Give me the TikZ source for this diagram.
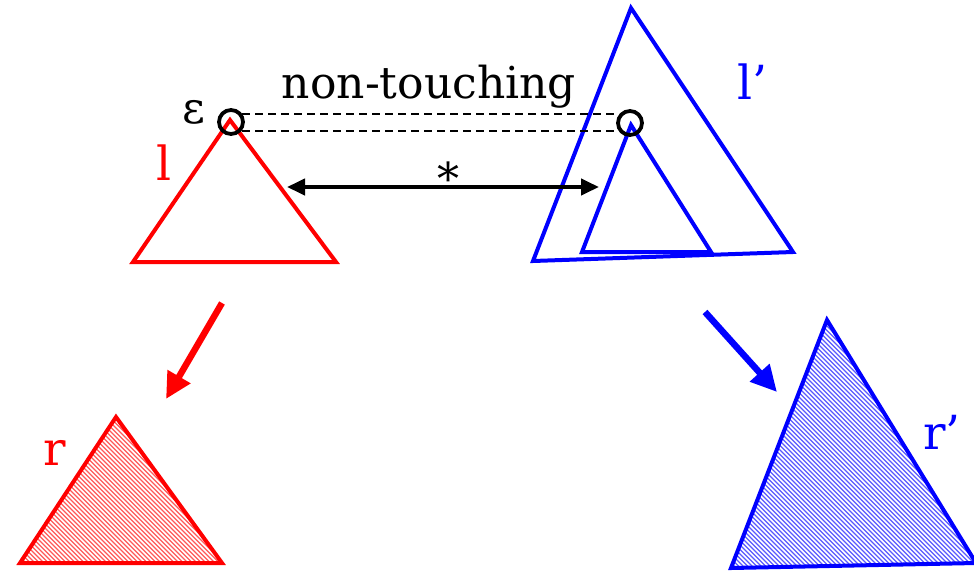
\documentclass[tikz,border=0pt]{standalone}
\usepackage{fontspec}
\setmainfont{DejaVu Serif}
\usetikzlibrary{arrows.meta}
\definecolor{pr}{RGB}{255,0,0}
\definecolor{pb}{RGB}{0,0,255}
\tikzset{
  tri/.style={line width=4pt, line join=miter},
  big/.style={font=\fontsize{44}{54}\selectfont, inner sep=0pt},
  lab/.style={font=\fontsize{47}{56}\selectfont, inner sep=0pt, anchor=base west},
  ring/.style={circle, draw=black, line width=3.8pt, minimum size=24pt, inner sep=0pt},
  dashline/.style={black, line width=1.8pt, dash pattern=on 8pt off 5pt},
  fatarrow/.style={line width=6.5pt, -{Triangle[length=26pt,width=25pt]}},
  hatch/.style={line width=1.3pt},
}
\begin{document}
\begin{tikzpicture}[x=1pt,y=-1pt]
\useasboundingbox (0,0) rectangle (974,571);
% red triangle l
\coordinate (lA) at (230,120);
\coordinate (lB) at (133,262);
\coordinate (lC) at (336,262);
\draw[tri, pr] (lA) -- (lB) -- (lC) -- cycle;
% blue triangles l'
\coordinate (bA) at (631,8);
\coordinate (bB) at (533,261);
\coordinate (bC) at (793,252);
\draw[tri, pb] (bA) -- (bB) -- (bC) -- cycle;
\coordinate (iA) at (631,125);
\coordinate (iB) at (582,252);
\coordinate (iC) at (711,252);
\draw[tri, pb] (iA) -- (iB) -- (iC) -- cycle;
% rings
\node[ring] (c1) at (231,122) {};
\node[ring] (c2) at (630,123) {};
% dashed lines
\coordinate (d1a) at (242,114);
\coordinate (d1b) at (619,114);
\coordinate (d2a) at (242,131);
\coordinate (d2b) at (619,131);
\draw[dashline] (d1a) -- (d1b);
\draw[dashline] (d2a) -- (d2b);
% labels
\node[big, anchor=base] (nt) at (429,98) {non-touching};
\node[big, anchor=base] (eps) at (194,123) {ε};
\node[lab, text=pr] (ll) at (156,180) {l};
\node[lab, text=pb] (lp) at (737,99) {l’};
% double arrow
\coordinate (h1) at (287,187);
\coordinate (h2) at (599,187);
\draw[line width=4pt, {Triangle[length=18pt,width=16pt]}-{Triangle[length=18pt,width=16pt]}] (h1) -- (h2);
\node[big, anchor=base] (star) at (448,194) {*};
% fat arrows
\coordinate (ra1) at (222,303);
\coordinate (ra2) at (166,399);
\draw[fatarrow, pr] (ra1) -- (ra2);
\coordinate (ba1) at (705,312);
\coordinate (ba2) at (777,392);
\draw[fatarrow, pb] (ba1) -- (ba2);
% hatched r
\coordinate (rA) at (116,417);
\coordinate (rB) at (20,563);
\coordinate (rC) at (222,563);
\begin{scope}
\clip (rA) -- (rB) -- (rC) -- cycle;
\foreach \i in {-200,-195.5,...,260} \draw[hatch, pr!65] (\i,400) -- (\i+180,580);
\end{scope}
\draw[tri, pr] (rA) -- (rB) -- (rC) -- cycle;
\node[lab, text=pr] (rl) at (43,465) {r};
% hatched r'
\coordinate (sA) at (827,320);
\coordinate (sB) at (731,568);
\coordinate (sC) at (976,563);
\begin{scope}
\clip (sA) -- (sB) -- (sC) -- cycle;
\foreach \i in {450,454.5,...,1000} \draw[hatch, pb!65] (\i,300) -- (\i+280,580);
\end{scope}
\draw[tri, pb] (sA) -- (sB) -- (sC) -- cycle;
\node[lab, text=pb] (rp) at (923,449) {r’};
\end{tikzpicture}
\end{document}
